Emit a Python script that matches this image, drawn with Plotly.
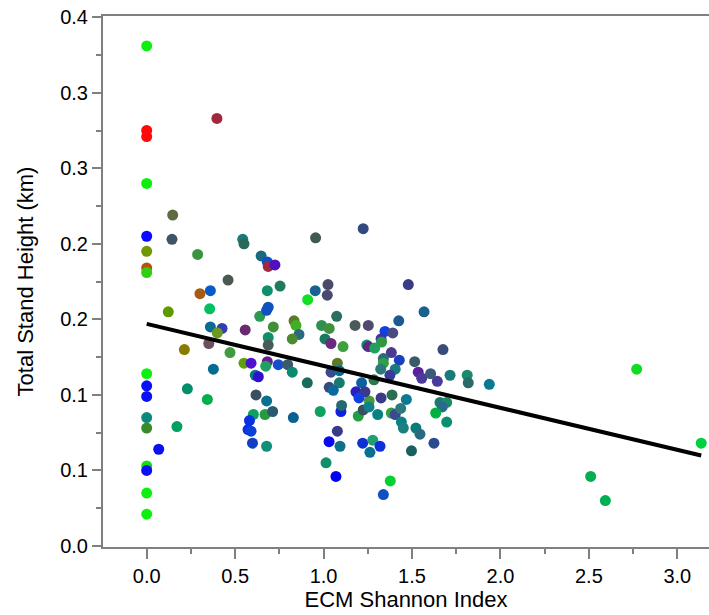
import numpy as np
import plotly.graph_objects as go

# ECM Shannon index (x) and total stand height in km (y), one entry per stand
shannon = [0, 0, 0, 0, 0, 0, 0, 0, 0, 0, 0, 0, 0, 0, 0, 0, 0,
           0.068, 0.147, 0.143, 0.122, 0.171, 0.213, 0.230, 0.288, 0.301, 0.360,
           0.356, 0.343, 0.377, 0.360, 0.426, 0.399, 0.351, 0.397, 0.460, 0.471,
           0.557, 0.543, 0.550, 0.647, 0.639, 0.550, 0.590, 0.614, 0.631, 0.618,
           0.678, 0.603, 0.669, 0.712, 0.581, 0.573, 0.590, 0.598, 0.678, 0.829,
           0.981, 1.098, 1.102, 1.196, 1.224, 1.258, 1.257, 1.306, 1.325, 1.387,
           1.383, 1.405, 1.436, 1.468, 1.440, 1.451, 1.522, 1.545, 1.497, 1.624,
           1.658, 1.696, 1.671, 1.634, 1.696, 1.078, 1.031, 1.093, 1.221, 1.278,
           1.319, 1.262, 1.014, 1.070, 1.377, 1.338, 1.224, 0.955, 0.682, 0.687,
           0.725, 0.754, 0.682, 1.025, 1.021, 0.953, 0.910, 1.479, 0.687, 0.678,
           0.833, 0.844, 0.716, 1.074, 0.989, 1.032, 1.178, 1.253, 0.861, 0.823,
           1.008, 0.687, 0.687, 1.042, 1.110, 1.347, 1.391, 1.325, 1.425, 1.244,
           1.253, 1.289, 1.328, 1.383, 1.428, 1.338, 1.338, 1.323, 1.405, 1.515,
           0.682, 0.673, 0.744, 0.797, 0.823, 1.078, 1.042, 1.089, 1.089, 0.908,
           1.032, 1.055, 1.215, 1.285, 1.375, 1.535, 1.183, 1.234, 1.200, 1.568,
           1.675, 1.555, 1.605, 1.643, 1.715, 1.812, 1.818, 1.937, 2.770, 3.135,
           2.510, 2.593]

height_km = [0.331, 0.275, 0.271, 0.240, 0.205, 0.195, 0.184, 0.181, 0.114, 0.106,
             0.099, 0.085, 0.078, 0.053, 0.050, 0.035, 0.021,
             0.064, 0.219, 0.203, 0.155, 0.079, 0.130, 0.104, 0.193, 0.167, 0.169,
             0.157, 0.097, 0.117, 0.145, 0.144, 0.141, 0.134, 0.283, 0.176, 0.128,
             0.143, 0.203, 0.200, 0.192, 0.152, 0.121, 0.121, 0.113, 0.112, 0.100,
             0.096, 0.087, 0.087, 0.089, 0.083, 0.077, 0.076, 0.068, 0.066, 0.085,
             0.089, 0.089, 0.093, 0.086, 0.090, 0.096, 0.092, 0.087, 0.098, 0.100,
             0.088, 0.087, 0.091, 0.097, 0.082, 0.078, 0.078, 0.074, 0.063, 0.068,
             0.095, 0.095, 0.092, 0.088, 0.082, 0.076, 0.069, 0.066, 0.068, 0.070,
             0.066, 0.062, 0.055, 0.046, 0.043, 0.034, 0.210, 0.204, 0.188, 0.185,
             0.186, 0.172, 0.169, 0.173, 0.166, 0.169, 0.163, 0.173, 0.158, 0.156,
             0.149, 0.146, 0.145, 0.152, 0.146, 0.144, 0.146, 0.146, 0.140, 0.137,
             0.137, 0.138, 0.133, 0.134, 0.132, 0.142, 0.141, 0.137, 0.149, 0.133,
             0.132, 0.131, 0.135, 0.128, 0.123, 0.124, 0.121, 0.117, 0.117, 0.122,
             0.122, 0.119, 0.120, 0.120, 0.115, 0.121, 0.115, 0.116, 0.108, 0.108,
             0.105, 0.103, 0.108, 0.110, 0.113, 0.115, 0.102, 0.102, 0.098, 0.155,
             0.130, 0.111, 0.114, 0.109, 0.113, 0.113, 0.108, 0.107, 0.117, 0.068,
             0.046, 0.030]

point_colors = ["#10ee10", "#ff0a0a", "#ff0a0a", "#10ee10", "#0a0aff", "#6e9a00", "#b8520a",
                "#30d010", "#10f010", "#0a10f5", "#0a10f5", "#0a8a7a", "#3a8a2a", "#10e01a",
                "#0a10f5", "#10f010", "#10f010",
                "#0a10f0", "#5e6a40", "#3f5565", "#5c9a00", "#00a060", "#8a7a00", "#008f6a",
                "#3a9440", "#a85a10", "#0a5ac8", "#00c060", "#00b050", "#006e90", "#0a6a94",
                "#3040b0", "#6a9a20", "#6a5060", "#a0283a", "#4a5a50", "#409a40", "#6a2a70",
                "#1a7a7a", "#2a6a5a", "#1a6a80", "#2a9a50", "#60a010", "#5010d0", "#0a7a80",
                "#3010d0", "#3a5060", "#0a7090", "#10a060", "#2a9a40", "#2a5a70", "#0a30e0",
                "#0a30e0", "#0840d8", "#1040c0", "#10907a", "#0a6090", "#10a060", "#1020e0",
                "#206a70", "#20a040", "#3a5060", "#4a9a3a", "#10808a", "#0a8080", "#3a3a8a",
                "#2a7050", "#30a040", "#3a4a90", "#2a7a80", "#0a7a90", "#0a8080", "#1a8080",
                "#0a7a7a", "#2a6a80", "#1a6060", "#2a4a90", "#1a7a70", "#1a8a6a", "#2a6a8a",
                "#00b040", "#0a9070", "#3a3a8a", "#0a0af0", "#10708a", "#1030d0", "#20a070",
                "#1030e0", "#0a7090", "#10906a", "#0000f0", "#00d030", "#1050c0", "#304a80",
                "#405a50", "#1050c0", "#a02840", "#5010c0", "#207a60", "#10906a", "#4a4a6a",
                "#4a4a70", "#1a6090", "#10e020", "#3a3a8a", "#1050c0", "#1050c0", "#5a7a2a",
                "#40b020", "#40903a", "#2a7060", "#309050", "#409040", "#4a5a5a", "#504a70",
                "#2a6a80", "#4a8a30", "#1a7a60", "#10906a", "#4a5a5a", "#6a2a80", "#40a040",
                "#1040e0", "#4a4a80", "#3a30b0", "#1a5a90", "#109070", "#5a2a80", "#20a060",
                "#309a40", "#4a3a90", "#1a40c0", "#2a6a7a", "#30a040", "#2a7a7a", "#1a7a80",
                "#3a5a6a", "#6a1a90", "#20a060", "#1050d0", "#3a5a6a", "#0a8a70", "#5a7a2a",
                "#3a4a90", "#0a6a90", "#1a7a70", "#1a6a5a", "#3a4a7a", "#0a6aa0", "#0a60a0",
                "#2a7a50", "#3a3a9a", "#5a20a0", "#2a20c0", "#3a3a8a", "#1040e0", "#1a6090",
                "#3a4a7a", "#4a3a9a", "#3a5a7a", "#4a3a9a", "#1a7a7a", "#1a8a6a", "#2a6a6a",
                "#0a7a90", "#10dd20", "#00d040", "#00b050", "#00b050"]

# linear fit shown in the chart
fit_intercept = 0.147
fit_slope = -0.0278

# tick labels as printed on the axes
y_tickvals = [0, 0.05, 0.10, 0.15, 0.20, 0.25, 0.30, 0.35]
y_ticktext = ["0.0", "0.1", "0.1", "0.2", "0.2", "0.3", "0.3", "0.4"]
x_tickvals = [0, 0.5, 1.0, 1.5, 2.0, 2.5, 3.0]
x_ticktext = ["0.0", "0.5", "1.0", "1.5", "2.0", "2.5", "3.0"]

fit_x = np.array([min(shannon), max(shannon)])
fit_y = fit_intercept + fit_slope * fit_x

fig = go.Figure()
fig.add_trace(go.Scatter(
    x=shannon, y=height_km, mode="markers",
    marker=dict(size=11, color=point_colors, line=dict(width=0)),
    showlegend=False, hoverinfo="x+y"))
fig.add_trace(go.Scatter(
    x=fit_x, y=fit_y, mode="lines",
    line=dict(color="black", width=4), showlegend=False))

font_family = "Liberation Sans, Arial, sans-serif"
fig.update_layout(
    width=709, height=615,
    margin=dict(l=103, r=0, t=16, b=68),
    paper_bgcolor="white", plot_bgcolor="white",
    font=dict(family=font_family, color="black", size=20),
    xaxis=dict(
        range=[-0.247, 3.179],
        tickvals=x_tickvals, ticktext=x_ticktext,
        ticks="outside", ticklen=10, tickwidth=1.5, tickcolor="#808080",
        minor=dict(dtick=0.25, tick0=0, ticks="outside", ticklen=5, tickwidth=1.5, tickcolor="#808080"),
        showline=True, linecolor="#808080", linewidth=2, mirror=True,
        showgrid=False, zeroline=False,
        tickfont=dict(size=20, color="black"),
        title=dict(text="ECM Shannon Index", font=dict(size=22), standoff=2),
    ),
    yaxis=dict(
        range=[-0.0007, 0.3508],
        tickvals=y_tickvals, ticktext=y_ticktext,
        ticks="outside", ticklen=9, tickwidth=1.5, tickcolor="#808080",
        minor=dict(dtick=0.025, tick0=0, ticks="outside", ticklen=5, tickwidth=1.5, tickcolor="#808080"),
        showline=True, linecolor="#808080", linewidth=2,
        showgrid=False, zeroline=False,
        tickfont=dict(size=20, color="black"),
        title=dict(text="Total Stand Height (km)", font=dict(size=22), standoff=20),
    ),
)

fig.write_html("out.html")
